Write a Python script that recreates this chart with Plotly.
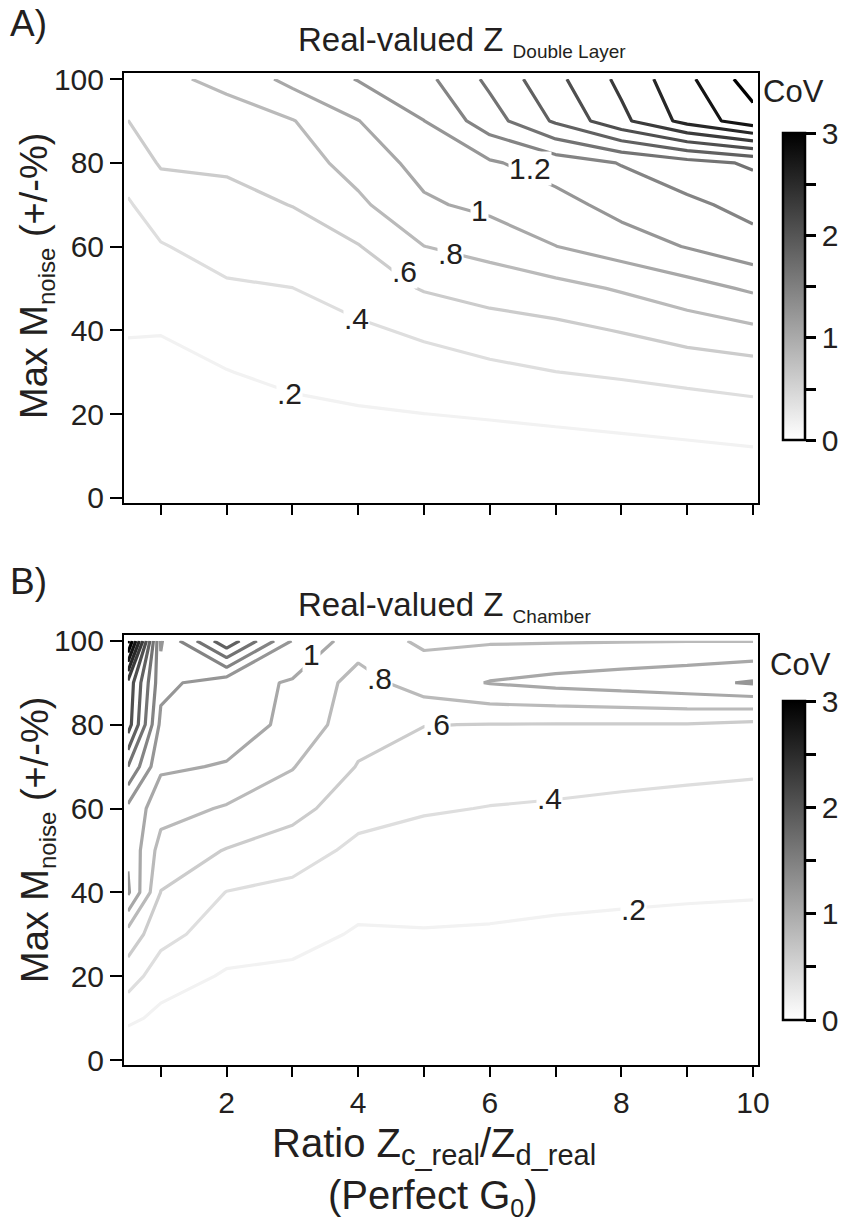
import plotly.graph_objects as go

# Grid of the simulation: ratio Zc_real/Zd_real (columns) and max noise in % (rows)
ratio = [0.5, 1, 2, 3, 4, 5, 6, 7, 8, 9, 10]
max_noise = [0, 10, 20, 30, 40, 50, 60, 70, 80, 90, 100]

# CoV of the real-valued double-layer impedance, one row per noise level
cov_double_layer = [
    [0, 0, 0, 0, 0, 0, 0, 0, 0, 0, 0],
    [0.05, 0.05, 0.06, 0.08, 0.09, 0.10, 0.11, 0.12, 0.13, 0.145, 0.165],
    [0.10, 0.10, 0.13, 0.16, 0.18, 0.199, 0.215, 0.235, 0.26, 0.29, 0.33],
    [0.155, 0.155, 0.195, 0.24, 0.28, 0.32, 0.353, 0.398, 0.43, 0.47, 0.50],
    [0.21, 0.2065, 0.27, 0.32, 0.37, 0.43, 0.505, 0.55, 0.61, 0.69, 0.76],
    [0.27, 0.29, 0.38, 0.398, 0.48, 0.615, 0.685, 0.734, 0.82, 0.92, 1.03],
    [0.33, 0.39, 0.46, 0.50, 0.59, 0.798, 0.87, 0.997, 1.10, 1.21, 1.33],
    [0.385, 0.48, 0.54, 0.605, 0.76, 0.97, 1.05, 1.13, 1.27, 1.36, 1.46],
    [0.47, 0.62, 0.63, 0.70, 0.88, 1.07, 1.176, 1.294, 1.41, 1.524, 1.63],
    [0.598, 0.70, 0.72, 0.79, 0.995, 1.198, 1.51, 1.83, 2.15, 2.47, 2.72],
    [0.72, 0.76, 0.845, 1.06, 1.21, 1.342, 1.645, 1.948, 2.25, 2.555, 2.9],
]

# CoV of the real-valued chamber impedance
cov_chamber = [
    [0, 0, 0, 0, 0, 0, 0, 0, 0, 0, 0],
    [0.247, 0.15, 0.09, 0.08, 0.065, 0.065, 0.062, 0.06, 0.055, 0.052, 0.05],
    [0.50, 0.29, 0.18, 0.165, 0.13, 0.13, 0.125, 0.12, 0.11, 0.105, 0.10],
    [0.72, 0.47, 0.29, 0.253, 0.185, 0.19, 0.185, 0.175, 0.17, 0.16, 0.155],
    [1.23, 0.595, 0.395, 0.355, 0.25, 0.255, 0.245, 0.23, 0.22, 0.215, 0.21],
    [1.17, 0.72, 0.59, 0.48, 0.36, 0.33, 0.31, 0.29, 0.28, 0.275, 0.27],
    [1.15, 0.88, 0.78, 0.68, 0.46, 0.415, 0.395, 0.385, 0.37, 0.35, 0.33],
    [1.60, 1.03, 0.985, 0.81, 0.59, 0.50, 0.47, 0.455, 0.445, 0.44, 0.43],
    [2.10, 1.15, 1.10, 0.95, 0.67, 0.605, 0.595, 0.59, 0.59, 0.59, 0.55],
    [2.15, 1.26, 1.08, 0.98, 0.72, 0.90, 1.01, 1.06, 1.10, 1.146, 1.22],
    [3.05, 1.18, 1.95, 1.19, 0.89, 0.77, 0.78, 0.785, 0.79, 0.795, 0.795],
]

# Contour levels and colour range
level_start, level_end, level_step = 0.2, 3.0, 0.2
cov_min, cov_max = 0.0, 3.0
cbar_ticks = [0, 0.5, 1, 1.5, 2, 2.5, 3]
x_major_ticks = [2, 4, 6, 8, 10]
x_minor_ticks = [1, 3, 5, 7, 9]
y_ticks = [0, 20, 40, 60, 80, 100]

# Inline contour labels: (level, ratio, noise) where each label sits
label_spots_a = [(0.2, 2.96, 25.0), (0.4, 3.98, 42.9), (0.6, 4.71, 54.0),
                 (0.8, 5.40, 58.4), (1.0, 5.85, 68.7), (1.2, 6.61, 78.7)]
label_spots_b = [(1.0, 3.29, 96.7), (0.8, 4.33, 91.0), (0.6, 5.21, 80.0),
                 (0.4, 6.91, 62.5), (0.2, 8.18, 35.8)]

W, H = 846, 1224
FONT = "Liberation Sans, Arial, Helvetica, sans-serif"
INK = "#231f20"
# gradient shown on the colour bars
BAR_GRAYS = [[0.0, "#ffffff"], [1.0, "#000000"]]
# line shading of the contour levels (same 0..3 range)
LINE_GRAYS = [[0.0, "#f2f2f2"], [0.0667, "#e0e0e0"], [0.333, "#a2a2a2"],
              [0.667, "#555555"], [1.0, "#000000"]]


def px(x):
    return x / W


def py(y):
    return 1 - y / H


def level_text(v):
    s = f"{v:g}"
    return s[1:] if s.startswith("0.") else s


fig = go.Figure()

for z, xa, ya in [(cov_double_layer, "x", "y"), (cov_chamber, "x2", "y2")]:
    fig.add_trace(go.Contour(
        x=ratio, y=max_noise, z=z, xaxis=xa, yaxis=ya,
        zmin=cov_min, zmax=cov_max, colorscale=LINE_GRAYS, showscale=False,
        contours=dict(coloring="lines", start=level_start, end=level_end,
                      size=level_step, showlabels=False),
        line=dict(width=3.2, smoothing=0), hoverinfo="skip",
    ))

# Continuous colour bars, one per panel
for xa, ya, cb_len, cb_y in [("x", "y", 307, py(286.7)), ("x2", "y2", 319, py(860.5))]:
    fig.add_trace(go.Scatter(
        x=[None, None], y=[None, None], xaxis=xa, yaxis=ya, mode="markers",
        showlegend=False, hoverinfo="skip",
        marker=dict(color=[cov_min, cov_max], cmin=cov_min, cmax=cov_max,
                    colorscale=BAR_GRAYS, showscale=True,
                    colorbar=dict(
                        x=px(783), xanchor="left", xpad=0, ypad=0,
                        y=cb_y, yanchor="middle", lenmode="pixels", len=cb_len,
                        thickness=22, outlinewidth=2.5, outlinecolor="black",
                        ticks="outside", ticklen=10, tickwidth=2.5, tickcolor="black",
                        tickvals=cbar_ticks,
                        ticktext=[f"{t:g}" if float(t).is_integer() else "" for t in cbar_ticks],
                        tickfont=dict(family=FONT, size=30, color=INK),
                    )),
    ))

axis_common = dict(showline=True, linewidth=2, linecolor="black", mirror=True,
                   ticks="outside", tickwidth=2, tickcolor="black",
                   showgrid=False, zeroline=False, automargin=False,
                   tickfont=dict(family=FONT, size=30, color=INK))
x_minor = dict(tickvals=x_minor_ticks, ticks="outside", ticklen=10, tickwidth=2,
               tickcolor="black", showgrid=False)

x_dom = [px(124), px(758)]
x_rng = [0.4407, 10.076]
y_rng = [-1.19, 101.39]

fig.update_layout(
    template="none",
    width=W, height=H, margin=dict(l=0, r=0, t=0, b=0, pad=0, autoexpand=False),
    paper_bgcolor="white", plot_bgcolor="white", showlegend=False,
    xaxis=dict(domain=x_dom, range=x_rng, anchor="y", tickvals=x_major_ticks,
               minor=x_minor, showticklabels=False, ticklen=10, **axis_common),
    yaxis=dict(domain=[py(502.7), py(73.3)], range=y_rng, anchor="x",
               tickvals=y_ticks, ticklen=12, **axis_common),
    xaxis2=dict(domain=x_dom, range=x_rng, anchor="y2", tickvals=x_major_ticks,
                minor=x_minor, ticklen=10, **axis_common),
    yaxis2=dict(domain=[py(1065), py(635)], range=y_rng, anchor="x2",
                tickvals=y_ticks, ticklen=12, **axis_common),
)

ann = []
txt = dict(family=FONT, color=INK)


def note(x, y, text, size, xanchor="center", **kw):
    ann.append(dict(x=px(x), y=py(y), xref="paper", yref="paper", text=text,
                    xanchor=xanchor, yanchor="middle", showarrow=False,
                    font=dict(size=size, **txt), **kw))


# Inline level labels on white patches
for spots, xr, yr in [(label_spots_a, "x", "y"), (label_spots_b, "x2", "y2")]:
    for lvl, xv, yv in spots:
        ann.append(dict(x=xv, y=yv, xref=xr, yref=yr, text=level_text(lvl),
                        xanchor="center", yanchor="middle",
                        showarrow=False, bgcolor="white", borderpad=0,
                        font=dict(size=30, **txt)))

# Panel letters
note(8, 23, "A)", 37, xanchor="left")
note(8, 581, "B)", 37, xanchor="left")

# Panel titles
note(296, 42, "Real-valued Z <sub><span style='font-size:19px'>Double Layer</span></sub>",
     33, xanchor="left")
note(296, 606, "Real-valued Z <sub><span style='font-size:19px'>Chamber</span></sub>",
     33, xanchor="left")

# Colour bar titles
note(793, 92, "CoV", 31)
note(800, 664, "CoV", 31)

# Y axis titles
for yc in (276, 840):
    note(37, yc, "Max M<sub><span style='font-size:24px'>noise</span></sub> (+/-%)",
         38, textangle=-90)

# X axis title (two lines)
note(434, 1146,
     "Ratio Z<sub><span style='font-size:29px'>c_real</span></sub>/Z"
     "<sub><span style='font-size:29px'>d_real</span></sub>", 40)
note(433, 1197, "(Perfect G<sub><span style='font-size:25px'>0</span></sub>)", 40)

fig.update_layout(annotations=ann)
fig.write_html("out.html")
